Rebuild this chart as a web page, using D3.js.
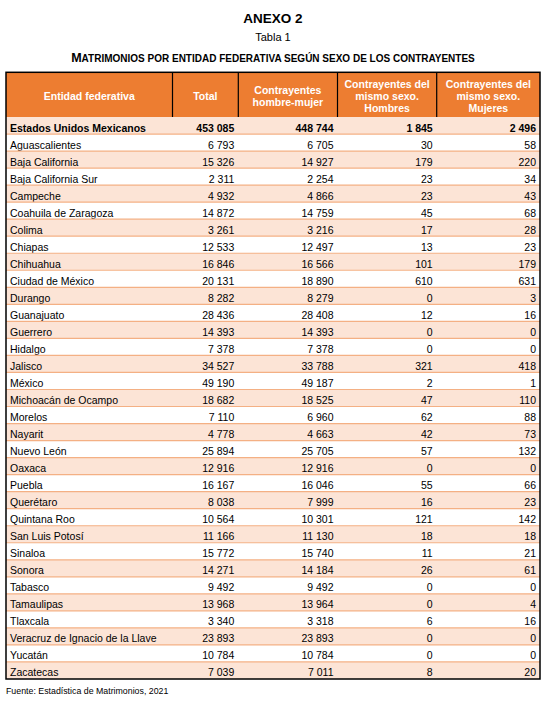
<!DOCTYPE html>
<html>
<head>
<meta charset="utf-8">
<script src="https://cdn.jsdelivr.net/npm/d3@7"></script>
<style>
  html, body { margin: 0; padding: 0; background: #fff; }
  svg { display: block; font-family: "Liberation Sans", Arial, sans-serif; }
</style>
</head>
<body>
<svg id="chart" width="548" height="701"></svg>
<script>
// ---- data ----
const entidades = [
  "Estados Unidos Mexicanos", "Aguascalientes", "Baja California", "Baja California Sur",
  "Campeche", "Coahuila de Zaragoza", "Colima", "Chiapas", "Chihuahua", "Ciudad de México",
  "Durango", "Guanajuato", "Guerrero", "Hidalgo", "Jalisco", "México", "Michoacán de Ocampo",
  "Morelos", "Nayarit", "Nuevo León", "Oaxaca", "Puebla", "Querétaro", "Quintana Roo",
  "San Luis Potosí", "Sinaloa", "Sonora", "Tabasco", "Tamaulipas", "Tlaxcala",
  "Veracruz de Ignacio de la Llave", "Yucatán", "Zacatecas"
];
const total = [
  453085, 6793, 15326, 2311, 4932, 14872, 3261, 12533, 16846, 20131,
  8282, 28436, 14393, 7378, 34527, 49190, 18682, 7110, 4778, 25894,
  12916, 16167, 8038, 10564, 11166, 15772, 14271, 9492, 13968, 3340,
  23893, 10784, 7039
];
const hombreMujer = [
  448744, 6705, 14927, 2254, 4866, 14759, 3216, 12497, 16566, 18890,
  8279, 28408, 14393, 7378, 33788, 49187, 18525, 6960, 4663, 25705,
  12916, 16046, 7999, 10301, 11130, 15740, 14184, 9492, 13964, 3318,
  23893, 10784, 7011
];
const mismoHombres = [
  1845, 30, 179, 23, 23, 45, 17, 13, 101, 610,
  0, 12, 0, 0, 321, 2, 47, 62, 42, 57,
  0, 55, 16, 121, 18, 11, 26, 0, 0, 6,
  0, 0, 8
];
const mismoMujeres = [
  2496, 58, 220, 34, 43, 68, 28, 23, 179, 631,
  3, 16, 0, 0, 418, 1, 110, 88, 73, 132,
  0, 66, 23, 142, 18, 21, 61, 0, 4, 16,
  0, 0, 20
];
const headers = [
  ["Entidad federativa"],
  ["Total"],
  ["Contrayentes", "hombre-mujer"],
  ["Contrayentes del", "mismo sexo.", "Hombres"],
  ["Contrayentes del", "mismo sexo.", "Mujeres"]
];
const titulo = "ANEXO 2";
const subtitulo = "Tabla 1";
const encabezado = "MATRIMONIOS POR ENTIDAD FEDERATIVA SEGÚN SEXO DE LOS CONTRAYENTES";
const fuente = "Fuente: Estadística de Matrimonios, 2021";

// ---- layout ----
const svg = d3.select("#chart");
const colEdges = [6, 172.5, 238.3, 337.5, 436.7, 540];
const headTop = 72.3, headBottom = 117, tableBottom = 679;
const seriesCols = [total, hombreMujer, mismoHombres, mismoMujeres];
const fs = 10.5;

const y = d3.scaleBand().domain(d3.range(entidades.length))
  .range([headBottom, tableBottom]).padding(0);
const fmt = v => d3.format(",")(v).replace(/,/g, " ");

const cOrange = "#ED7D31", cPeach = "#FCE4D6", cLine = "#F4B084";

// titles
const cx = (colEdges[0] + colEdges[5]) / 2;
svg.append("text").attr("x", cx).attr("y", 23).attr("text-anchor", "middle")
  .attr("font-size", 13.5).attr("font-weight", "bold").text(titulo);
svg.append("text").attr("x", cx).attr("y", 41).attr("text-anchor", "middle")
  .attr("font-size", 11).text(subtitulo);
const t3 = svg.append("text").attr("x", cx).attr("y", 62).attr("text-anchor", "middle")
  .attr("font-weight", "bold");
t3.append("tspan").attr("font-size", 12.5).text(encabezado[0]);
t3.append("tspan").attr("font-size", 10).text(encabezado.slice(1));

// header background
svg.append("rect").attr("x", colEdges[0]).attr("y", headTop)
  .attr("width", colEdges[5] - colEdges[0]).attr("height", headBottom - headTop)
  .attr("fill", cOrange);

// rows
const rows = svg.append("g").selectAll("g").data(entidades).join("g")
  .attr("transform", (d, i) => `translate(0,${y(i)})`);
rows.append("rect").attr("x", colEdges[0]).attr("width", colEdges[5] - colEdges[0])
  .attr("height", y.bandwidth()).attr("fill", (d, i) => i % 2 === 0 ? cPeach : "#fff");
rows.filter((d, i) => i > 0).append("line")
  .attr("x1", colEdges[0]).attr("x2", colEdges[5]).attr("y1", 0).attr("y2", 0)
  .attr("stroke", cLine).attr("stroke-width", 1.2);

rows.append("text").attr("x", colEdges[0] + 4).attr("y", 14.5)
  .attr("font-size", fs).attr("font-weight", (d, i) => i === 0 ? "bold" : "normal")
  .text(d => d);

seriesCols.forEach((arr, c) => {
  rows.append("text").attr("x", colEdges[c + 2] - 4).attr("y", 14.5)
    .attr("text-anchor", "end").attr("font-size", fs)
    .attr("font-weight", (d, i) => i === 0 ? "bold" : "normal")
    .text((d, i) => fmt(arr[i]));
});

// header text
headers.forEach((lines, c) => {
  const mx = (colEdges[c] + colEdges[c + 1]) / 2;
  const lh = lines.length === 3 ? 11.7 : 11.5;
  const mid = (headTop + headBottom) / 2 + 1.5;
  lines.forEach((ln, k) => {
    svg.append("text").attr("x", mx)
      .attr("y", mid + (k - (lines.length - 1) / 2) * lh + 4)
      .attr("text-anchor", "middle").attr("font-size", fs).attr("font-weight", "bold")
      .attr("fill", "#fff").text(ln);
  });
});

// header vertical dividers
colEdges.slice(1, 5).forEach(xv => {
  svg.append("line").attr("x1", xv).attr("x2", xv).attr("y1", headTop).attr("y2", headBottom)
    .attr("stroke", "#000").attr("stroke-width", 1.2);
});

// outer border
svg.append("rect").attr("x", colEdges[0]).attr("y", headTop)
  .attr("width", colEdges[5] - colEdges[0]).attr("height", tableBottom - headTop)
  .attr("fill", "none").attr("stroke", "#000").attr("stroke-width", 1.5);

// source
svg.append("text").attr("x", 6).attr("y", 694).attr("font-size", 8.8).text(fuente);
</script>
</body>
</html>
